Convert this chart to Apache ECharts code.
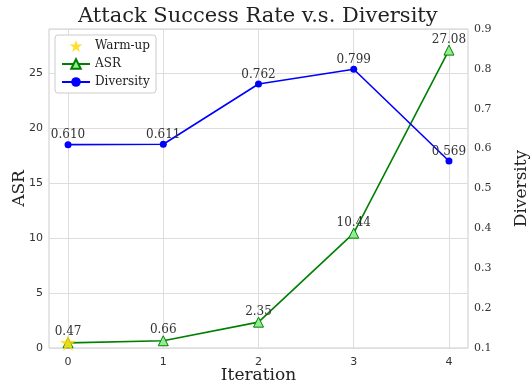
<!DOCTYPE html>
<html>
<head>
<meta charset="utf-8">
<script src="https://cdn.jsdelivr.net/npm/echarts@6/dist/echarts.min.js"></script>
<style>
  html, body { margin: 0; padding: 0; background: #fff; }
  #main { width: 532px; height: 383px; }
</style>
</head>
<body>
<div id="main"></div>
<script>
var iterations = [0, 1, 2, 3, 4];
var asr = [0.47, 0.66, 2.35, 10.44, 27.08];
var diversity = [0.610, 0.611, 0.762, 0.799, 0.569];
var warmupIter = [0];
var warmupAsr = [0.47];

var serif = "DejaVu Serif";
var sans = "DejaVu Sans";

// five point star for the warm-up marker
function starPath() {
  var pts = [];
  for (var i = 0; i < 10; i++) {
    var r = i % 2 === 0 ? 50 : 20;
    var a = -Math.PI / 2 + i * Math.PI / 5;
    pts.push((50 + r * Math.cos(a)).toFixed(2) + "," + (50 + r * Math.sin(a)).toFixed(2));
  }
  return "path://M" + pts.join("L") + "Z";
}

var chartDom = document.getElementById("main");
var myChart = echarts.init(chartDom);
var option;

var labelStyle = {
  show: true,
  position: "top",
  fontFamily: serif,
  fontSize: 12,
  color: "#333",
};

option = {
  animation: false,
  title: {
    text: "Attack Success Rate v.s. Diversity",
    left: 73,
    top: 1,
    textStyle: { fontFamily: serif, fontSize: 21, fontWeight: "normal", color: "#222" },
  },
  legend: {
    orient: "vertical",
    left: 55,
    top: 35,
    padding: [5, 6, 5, 6],
    itemGap: 6,
    itemWidth: 28,
    itemHeight: 12,
    borderColor: "#ccc",
    borderWidth: 1,
    borderRadius: 3,
    backgroundColor: "#fff",
    textStyle: { fontFamily: serif, fontSize: 12, color: "#222" },
    data: ["Warm-up", "ASR", "Diversity"],
  },
  grid: {
    left: 49,
    right: 64,
    top: 29,
    bottom: 35,
    outerBoundsMode: "none",
    containLabel: false,
    show: true,
    borderColor: "#ccc",
    borderWidth: 1,
  },
  xAxis: {
    type: "value",
    min: -0.2,
    max: 4.2,
    name: "Iteration",
    nameLocation: "middle",
    nameGap: 19,
    nameMoveOverlap: false,
    nameTextStyle: { fontFamily: serif, fontSize: 17, color: "#222" },
    axisLine: { show: false },
    axisTick: { show: false, customValues: iterations },
    axisLabel: {
      customValues: iterations,
      fontFamily: sans,
      fontSize: 11,
      color: "#333",
      margin: 9,
    },
    splitLine: { show: true, lineStyle: { color: "#ddd", width: 1 } },
  },
  yAxis: [
    {
      type: "value",
      min: 0,
      max: 29,
      interval: 5,
      name: "ASR",
      nameLocation: "middle",
      nameGap: 21,
      nameMoveOverlap: false,
      nameTextStyle: { fontFamily: serif, fontSize: 17, color: "#222" },
      axisLine: { show: false },
      axisTick: { show: false },
      axisLabel: { showMaxLabel: false, fontFamily: sans, fontSize: 11, color: "#333", margin: 6 },
      splitLine: { show: true, lineStyle: { color: "#ddd", width: 1 } },
    },
    {
      type: "value",
      min: 0.1,
      max: 0.9,
      interval: 0.1,
      position: "right",
      name: "Diversity",
      nameLocation: "middle",
      nameGap: 45,
      nameMoveOverlap: false,
      nameRotate: 90,
      nameTextStyle: { fontFamily: serif, fontSize: 17, color: "#222" },
      axisLine: { show: false },
      axisTick: { show: false },
      axisLabel: {
        fontFamily: serif,
        fontSize: 11,
        color: "#333",
        margin: 6,
        formatter: function (v) { return v.toFixed(1); },
      },
      splitLine: { show: false },
    },
  ],
  series: [
    {
      name: "ASR",
      type: "line",
      yAxisIndex: 0,
      data: iterations.map(function (x, i) { return [x, asr[i]]; }),
      symbol: "triangle",
      symbolSize: 10,
      lineStyle: { color: "#008000", width: 1.6 },
      itemStyle: { color: "#90ee90", borderColor: "#008000", borderWidth: 1 },
      label: Object.assign({}, labelStyle, {
        distance: -1,
        formatter: function (p) { return p.value[1].toFixed(2); },
      }),
      z: 3,
    },
    {
      name: "Diversity",
      type: "line",
      yAxisIndex: 1,
      data: iterations.map(function (x, i) { return [x, diversity[i]]; }),
      symbol: "circle",
      symbolSize: 7,
      lineStyle: { color: "#0000ff", width: 1.6 },
      itemStyle: { color: "#0000ff" },
      label: Object.assign({}, labelStyle, {
        distance: 0,
        formatter: function (p) { return p.value[1].toFixed(3); },
      }),
      z: 3,
    },
    {
      name: "Warm-up",
      type: "scatter",
      yAxisIndex: 0,
      data: warmupIter.map(function (x, i) { return [x, warmupAsr[i]]; }),
      symbol: starPath(),
      symbolSize: 16,
      itemStyle: { color: "#ffd700" },
      z: 4,
    },
  ],
};

option && myChart.setOption(option);
</script>
</body>
</html>
